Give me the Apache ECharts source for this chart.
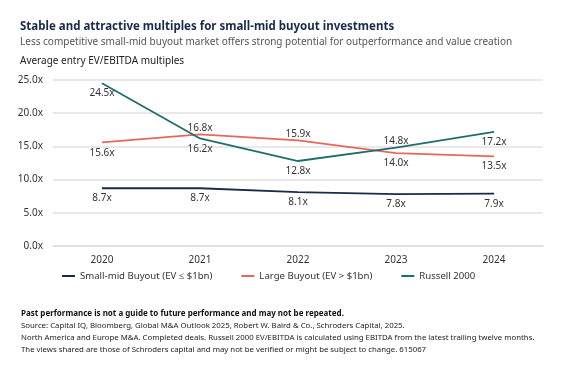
<!DOCTYPE html>
<html><head><meta charset="utf-8">
<script src="https://cdn.jsdelivr.net/npm/echarts@6/dist/echarts.min.js"></script>
<style>html,body{margin:0;padding:0;background:#fff}#c{width:567px;height:365px}</style>
</head><body><div id="c"></div>
<script>
const categories = ['2020','2021','2022','2023','2024'];
const smallMid = [8.7, 8.7, 8.1, 7.8, 7.9];
const largeBuyout = [15.6, 16.8, 15.9, 14.0, 13.5];
const russell = [24.5, 16.2, 12.8, 14.8, 17.2];
const smallMidLabelPos = ['bottom','bottom','bottom','bottom','bottom'];
const largeLabelPos = ['bottom','top','top','bottom','bottom'];
const russellLabelPos = ['bottom','bottom','bottom','top','bottom'];
const seriesNames = ['Small-mid Buyout (EV \u2264 $1bn)','Large Buyout (EV > $1bn)','Russell 2000'];
const colors = ['#1b2a4a','#e5695a','#1f6e6c'];
const FONT = '"Noto Sans", "Open Sans", sans-serif';

function mkData(vals, pos){
  return vals.map((v,i)=>({value:v,label:{position:pos[i],distance: pos[i]==='top'?1:5}}));
}
function mkSeries(name, vals, pos, color){
  return {
    name, type:'line', data: mkData(vals,pos), smooth: false,
    symbol:'circle', symbolSize:0.5, showSymbol:true,
    lineStyle:{color, width:1.8}, itemStyle:{color},
    label:{show:true, color:'#333', fontSize:10, fontFamily:FONT, formatter:p=>p.value.toFixed(1)+'x'},
    emphasis:{disabled:true}
  };
}
const chart = echarts.init(document.getElementById('c'));
chart.setOption({
  animation:false,
  textStyle:{fontFamily:FONT},
  title:[
    {text:'Stable and attractive multiples for small-mid buyout investments', left:15, top:16,
      textStyle:{fontSize:11.5, fontWeight:'bold', color:'#1a2a48', fontFamily:FONT}},
    {text:'Less competitive small-mid buyout market offers strong potential for outperformance and value creation', left:15, top:32,
      textStyle:{fontSize:10, fontWeight:'normal', color:'#555', fontFamily:FONT}},
    {text:'Average entry EV/EBITDA multiples', left:15, top:51,
      textStyle:{fontSize:10, fontWeight:'normal', color:'#222', fontFamily:FONT}},
    {text:'Past performance is not a guide to future performance and may not be repeated.', left:16, top:305,
      textStyle:{fontSize:8, fontWeight:'bold', color:'#111', fontFamily:FONT}},
    {text:'Source: Capital IQ, Bloomberg, Global M&A Outlook 2025, Robert W. Baird & Co., Schroders Capital, 2025.\nNorth America and Europe M&A. Completed deals. Russell 2000 EV/EBITDA is calculated using EBITDA from the latest trailing twelve months.\nThe views shared are those of Schroders capital and may not be verified or might be subject to change. 615067', left:16, top:315,
      textStyle:{fontSize:7.8, fontWeight:'normal', color:'#222', lineHeight:12, fontFamily:FONT}}
  ],
  grid:{left:53, right:24, top:80, bottom:119},
  legend:{
    data: seriesNames, left:62, top:271, padding:0, itemWidth:13, itemHeight:2, itemGap:29, icon:'rect',
    textStyle:{fontSize:9.6, color:'#333', fontFamily:FONT}
  },
  xAxis:{
    type:'category', data: categories, boundaryGap:true,
    axisLine:{show:true, lineStyle:{color:'#ddd', width:1.5}}, axisTick:{show:false},
    axisLabel:{color:'#333', fontSize:10, margin:9, fontFamily:FONT}
  },
  yAxis:{
    type:'value', min:0, max:25, interval:5,
    axisLine:{show:false}, axisTick:{show:false},
    splitLine:{lineStyle:{color:'#e2e2e2', width:1.5}},
    axisLabel:{color:'#333', fontSize:10, margin:10, fontFamily:FONT, formatter:v=>v.toFixed(1)+'x'}
  },
  series:[
    mkSeries(seriesNames[0], smallMid, smallMidLabelPos, colors[0]),
    mkSeries(seriesNames[1], largeBuyout, largeLabelPos, colors[1]),
    mkSeries(seriesNames[2], russell, russellLabelPos, colors[2])
  ]
});
</script></body></html>
